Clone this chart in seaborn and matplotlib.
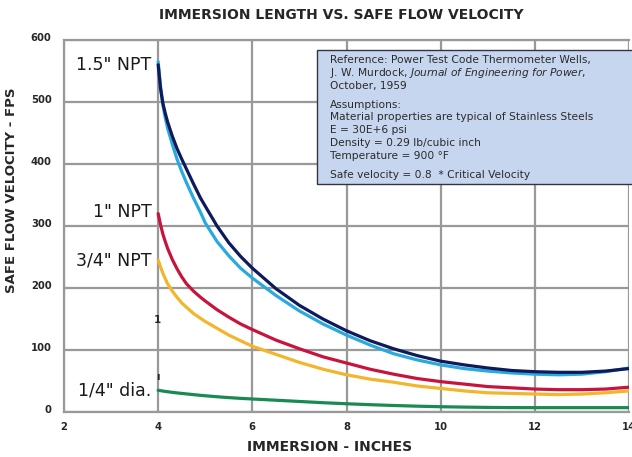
import matplotlib
matplotlib.use("Agg")
import matplotlib.pyplot as plt
from matplotlib.patches import Rectangle
from matplotlib.transforms import ScaledTranslation
import seaborn as sns
import pandas as pd

# ---- data ----
immersion = [4.0, 4.05, 4.1, 4.15, 4.2, 4.3, 4.4, 4.5, 4.6, 4.75, 4.9, 5.0, 5.25, 5.5, 5.75,
             6.0, 6.5, 7.0, 7.5, 8.0, 8.5, 9.0, 9.5, 10.0, 10.5, 11.0, 11.5, 12.0, 12.5,
             13.0, 13.5, 14.0]
npt15_a = [560, 522, 498, 482, 468, 445, 425, 408, 392, 368, 345, 332, 300, 273, 251,
           232, 199, 172, 150, 131, 115, 102, 91, 82, 76, 71, 67, 65, 64, 64, 66, 70]
npt15_b = [565, 525, 495, 475, 458, 432, 408, 388, 370, 345, 322, 305, 275, 252, 232,
           216, 188, 163, 142, 124, 108, 94, 84, 76, 70, 66, 63, 61, 60, 61, 65, 71]
npt1 = [320, 302, 287, 275, 264, 246, 231, 218, 207, 195, 185, 179, 165, 153, 142,
        133, 116, 102, 89, 79, 69, 61, 54, 49, 45, 41, 39, 37, 36, 36, 37, 40]
npt34 = [245, 234, 224, 215, 207, 195, 185, 176, 169, 159, 151, 146, 135, 124, 115,
         106, 93, 80, 69, 60, 53, 48, 42, 38, 34, 31, 30, 29, 28, 29, 31, 34]
dia14 = [35, 34.4, 33.8, 33.2, 32.7, 31.7, 30.8, 30, 29.2, 28, 26.9, 26.2, 24.6, 23.2, 22,
         21, 19, 17, 15, 13.3, 11.8, 10.5, 9.4, 8.5, 7.9, 7.4, 7.1, 7, 7, 7, 7, 7]

series_names = ["1.5a", "1.5b", "1", "3/4", "1/4"]
series_values = [npt15_a, npt15_b, npt1, npt34, dia14]
series_colors = ["#0d1a5c", "#2aa9de", "#c8143c", "#f2b52c", "#198a52"]

labels = ['1.5" NPT', '1" NPT', '3/4" NPT', '1/4" dia.']
label_y = [560, 323, 245, 35]

x_ticks = [2, 4, 6, 8, 10, 12, 14]
y_ticks = [0, 100, 200, 300, 400, 500, 600]

title = "IMMERSION LENGTH VS. SAFE FLOW VELOCITY"
xlabel = "IMMERSION - INCHES"
ylabel = "SAFE FLOW VELOCITY - FPS"

info_lines = [
    "Reference: Power Test Code Thermometer Wells,",
    "J. W. Murdock, $\\it{Journal\\ of\\ Engineering\\ for\\ Power}$,",
    "October, 1959",
    "Assumptions:",
    "Material properties are typical of Stainless Steels",
    "E = 30E+6 psi",
    "Density = 0.29 lb/cubic inch",
    "Temperature = 900 \u00b0F",
    "Safe velocity = 0.8  * Critical Velocity",
]
info_line_px = [60, 72.8, 85.6, 104.5, 117.3, 130.1, 142.9, 155.7, 174.5]  # layout rows

# ---- build long table ----
rows = []
for name, vals in zip(series_names, series_values):
    for x, v in zip(immersion, vals):
        rows.append({"immersion": x, "velocity": v, "series": name})
df = pd.DataFrame(rows)

sns.set_style("white")
plt.rcParams["font.family"] = ["DejaVu Sans"]

W, H = 632, 457
fig = plt.figure(figsize=(W / 100, H / 100), dpi=100)
ax_l, ax_r, ax_t, ax_b = 64, 629, 40, 412
ax = fig.add_axes([ax_l / W, (H - ax_b) / H, (ax_r - ax_l) / W, (ax_b - ax_t) / H])

sns.lineplot(data=df, x="immersion", y="velocity", hue="series",
             hue_order=series_names[::-1],
             palette=dict(zip(series_names, series_colors)),
             linewidth=2.3, legend=False, ax=ax, estimator=None, sort=False)

ax.set_xlim(2, 14)
ax.set_ylim(0, 600)
ax.set_xticks(x_ticks)
ax.set_yticks(y_ticks)
ax.set_xticklabels([str(t) for t in x_ticks], fontsize=7.2, fontweight="bold")
ax.set_yticklabels([str(t) for t in y_ticks], fontsize=7.2, fontweight="bold")
ax.tick_params(axis="x", length=0, pad=7)
ax.tick_params(axis="y", length=0, pad=9)
shift = ScaledTranslation(0, 3 / 100, fig.dpi_scale_trans)
for lab in ax.get_yticklabels():
    lab.set_transform(lab.get_transform() + shift)
ax.grid(True, color="#999999", linewidth=1.6)
ax.set_axisbelow(True)
for s in ax.spines.values():
    s.set_color("#999999")
    s.set_linewidth(1.6)
ax.spines["right"].set_visible(False)

ax.set_xlabel(xlabel, fontsize=10, fontweight="bold")
ax.set_ylabel(ylabel, fontsize=9.5, fontweight="bold")
ax.xaxis.set_label_coords((330 - ax_l) / (ax_r - ax_l), (ax_b - 447) / (ax_b - ax_t))
ax.yaxis.set_label_coords((12 - ax_l) / (ax_r - ax_l), (ax_b - 190) / (ax_b - ax_t))
ax.xaxis.label.set_va("center")
ax.yaxis.label.set_va("center")
fig.text(341 / W, 1 - 15 / H, title, ha="center", va="center", fontsize=10, fontweight="bold")

for lab, yv in zip(labels, label_y):
    ax.text(3.86, yv, lab, ha="right", va="center", fontsize=12.5, color="#1a1a1a")

ax.text(3.98, 148, "1", ha="center", va="center", fontsize=7.5, fontweight="bold")
ax.text(3.99, 57, "\u0131", ha="center", va="center", fontsize=7, fontweight="bold")

# info box
bx0 = (317 - ax_l) / (ax_r - ax_l)
by0 = (ax_b - 184) / (ax_b - ax_t)
by1 = (ax_b - 50) / (ax_b - ax_t)
ax.add_patch(Rectangle((bx0, by0), 1.2, by1 - by0, transform=ax.transAxes,
                       facecolor="#c6d6ee", edgecolor="#333344", linewidth=1.0,
                       clip_on=False, zorder=5))
tx = (330 - ax_l) / (ax_r - ax_l)
for line, py in zip(info_lines, info_line_px):
    ax.text(tx, (ax_b - py) / (ax_b - ax_t), line, transform=ax.transAxes,
            ha="left", va="center", fontsize=7.7, color="#2a2a2a",
            zorder=6, clip_on=False)

fig.savefig("out.png", dpi=100)
